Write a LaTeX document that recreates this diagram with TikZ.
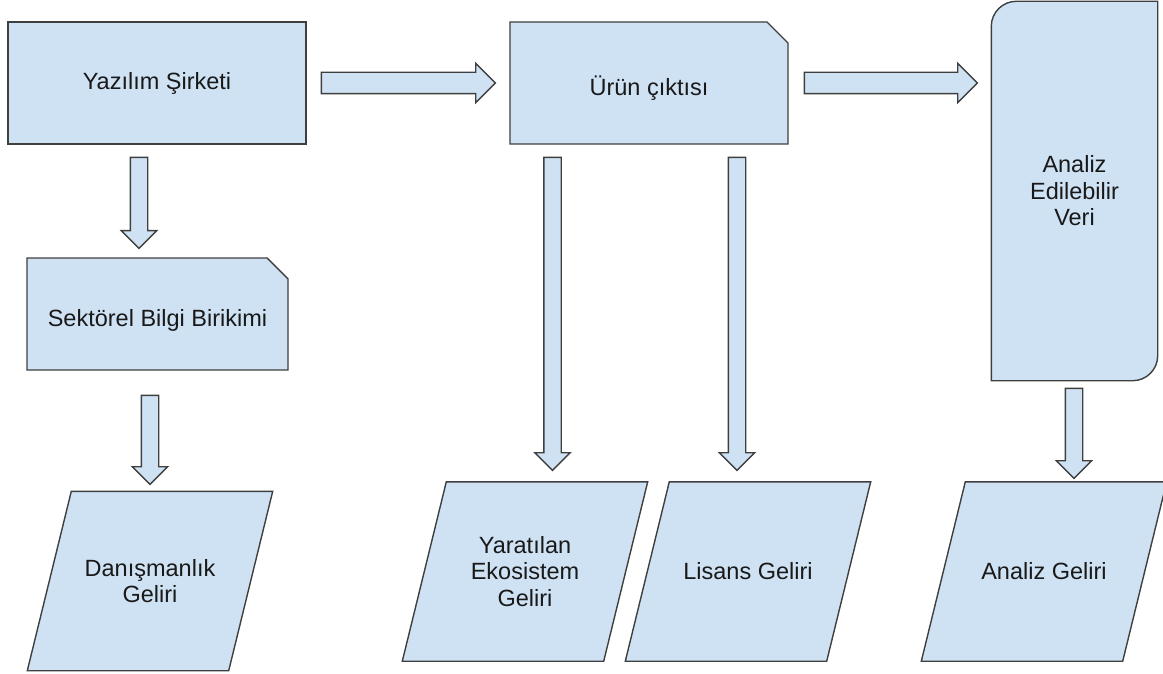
\documentclass[tikz,border=0pt]{standalone}
\usepackage{fontspec}
\setmainfont{Liberation Sans}
\usetikzlibrary{shapes.misc,shapes.arrows,backgrounds,calc}
\definecolor{boxblue}{HTML}{CFE2F3}
\definecolor{boxline}{HTML}{3F3F3F}
\tikzset{
	box/.style={draw=boxline, fill=boxblue, line width=1.4pt, text=black!90, font=\fontsize{23.5}{26.5}\selectfont, align=center, inner sep=0pt},
	plainbox/.style={box, rectangle},
	cardbox/.style={box, chamfered rectangle, chamfered rectangle corners=north east, chamfered rectangle xsep=20pt, text height=30pt},
	outbox/.style={box, draw=none, fill=none, minimum width=200pt, minimum height=178pt},
	blockarrow/.style={draw=boxline, fill=boxblue, line width=1.4pt, single arrow, single arrow head extend=9pt, inner xsep=0pt},
	harrow/.style={blockarrow, inner ysep=10pt, minimum width=38pt},
	varrow/.style={blockarrow, inner ysep=8pt, minimum width=34pt, rotate=-90}
}
\begin{document}
\begin{tikzpicture}[x=1pt, y=-1pt]
	\useasboundingbox (0,0) rectangle (1163,674);
	\node[plainbox, minimum width=298pt, minimum height=122pt] (yaz) at (157,83) {Yazılım Şirketi};
	\node[cardbox, minimum width=278pt, minimum height=122pt] (urun) at (649,83) {Ürün çıktısı};
	\node[cardbox, chamfered rectangle xsep=18pt, minimum width=261pt, minimum height=112pt] (sek) at (157.5,314) {Sektörel Bilgi Birikimi};
	\node[box, draw=none, fill=none, minimum width=165pt, minimum height=378pt] (veri) at (1074.5,191) {Analiz\\Edilebilir\\Veri};
	\node[outbox] (dan) at (150,581) {Danışmanlık\\Geliri};
	\node[outbox] (yar) at (525,571.5) {Yaratılan\\Ekosistem\\Geliri};
	\node[outbox] (lis) at (748,571.5) {Lisans Geliri};
	\node[outbox] (anl) at (1044,571.5) {Analiz Geliri};
	\begin{scope}[on background layer]
	\draw[box] (veri.south west) -- ($(veri.north west)+(0,25)$) .. controls +(0,-13.8) and +(-13.8,0) .. ($(veri.north west)+(25,0)$) -- (veri.north east) -- ($(veri.south east)+(0,-25)$) .. controls +(0,13.8) and +(13.8,0) .. ($(veri.south east)+(-25,0)$) -- cycle;
	\foreach \n in {dan,yar,lis,anl}
		\draw[box] ($(\n.north west)+(22,0)$) -- ($(\n.north east)+(22,0)$) -- ($(\n.south east)+(-22,0)$) -- ($(\n.south west)+(-22,0)$) -- cycle;
	\end{scope}
	\node[harrow, minimum height=174pt, anchor=tail] (a1) at ([xshift=14pt]yaz.east) {};
	\node[harrow, minimum height=173pt, anchor=tail] (a2) at ([xshift=15pt]urun.east) {};
	\node[varrow, minimum height=91pt, anchor=tail] (a3) at ([xshift=-18pt,yshift=-12pt]yaz.south) {};
	\node[varrow, minimum height=89pt, anchor=tail] (a4) at ([xshift=-7.5pt,yshift=-24pt]sek.south) {};
	\node[varrow, minimum height=313pt, anchor=tail] (a5) at ([xshift=-96.5pt,yshift=-12pt]urun.south) {};
	\node[varrow, minimum height=313pt, anchor=tail] (a6) at ([xshift=88pt,yshift=-12pt]urun.south) {};
	\node[varrow, minimum height=90pt, anchor=tail] (a7) at ([xshift=-0.5pt,yshift=-7pt]veri.south) {};
\end{tikzpicture}
\end{document}
